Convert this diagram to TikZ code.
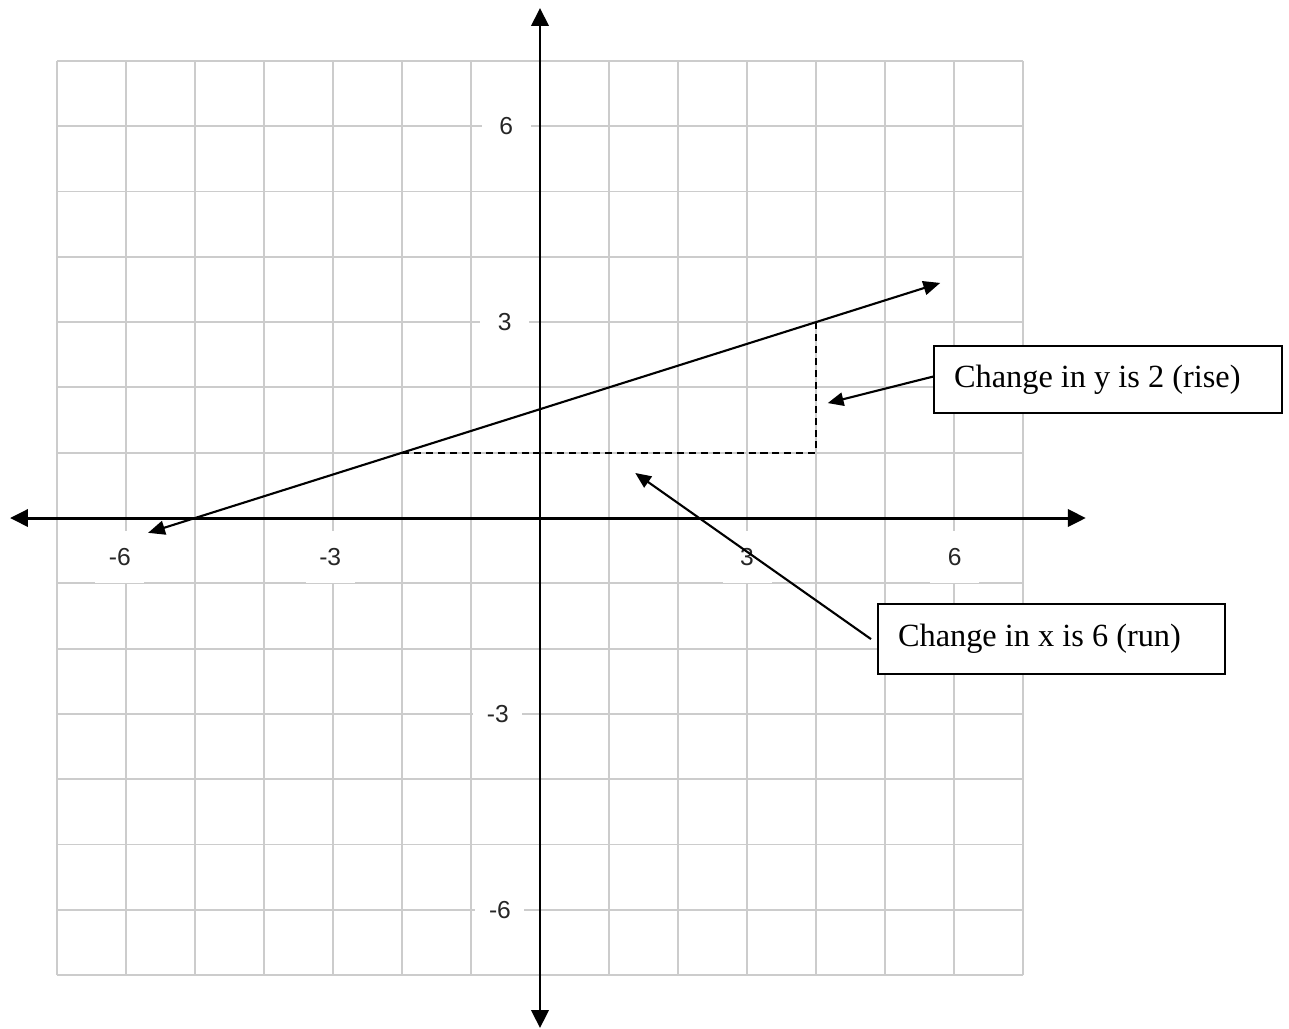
\documentclass[tikz,border=0pt]{standalone}
\usepackage{fontspec}
\setmainfont{Liberation Serif}
\newfontfamily\ticksans{Liberation Sans}
\usepackage{tikz}
\usetikzlibrary{arrows.meta,positioning}
\definecolor{gridcol}{gray}{0.80}
\definecolor{tickcol}{gray}{0.15}
\tikzset{
  gridline/.style={draw=gridcol,line width=0.55pt,xstep=0.69cm,ystep=0.653cm},
  axisline/.style={line width=0.85pt,{Triangle[length=5.1pt,width=4.9pt]}-{Triangle[length=5.1pt,width=4.9pt]}},
  graphline/.style={line width=0.6pt,{Triangle[length=4.8pt,width=4pt]}-{Triangle[length=4.8pt,width=4pt]}},
  dashline/.style={line width=0.55pt,dash pattern=on 2pt off 1.4pt},
  callout/.style={line width=0.6pt,-{Triangle[length=4.5pt,width=3.8pt]}},
  ticklab/.style={fill=white,inner sep=0pt,minimum width=0.49cm,minimum height=0.52cm,text=tickcol,font=\ticksans\fontsize{7}{8}\selectfont},
  notebox/.style={draw,line width=0.6pt,fill=white,anchor=north west,inner xsep=0.2cm,inner ysep=0pt,align=flush left,font=\fontsize{9.2}{10}\selectfont},
}
\begin{document}
\begin{tikzpicture}[x=0.69cm,y=0.653cm]
  \useasboundingbox (-7.826,-7.825) rectangle (10.855,7.933);
  % grid
  \draw[gridline] (-7,-7) grid (7,7);
  % tick labels
  \foreach \v/\px in {6/-0.49,3/-0.51,-3/-0.61,-6/-0.58}
    \node[ticklab] (yt\v) at (\px,\v) {\v};
  \foreach \v/\px in {-6/-6.09,-3/-3.04,3/3.0,6/6.01}
    \node[ticklab] (xt\v) at (\px,-0.6) {\v};
  % axes
  \coordinate (xneg) at (-7.68,0);
  \coordinate (xpos) at (7.91,0);
  \coordinate (yneg) at (0,-7.81);
  \coordinate (ypos) at (0,7.81);
  \draw[axisline] (xneg) -- (xpos);
  \draw[axisline] (yneg) -- (ypos);
  % the line and its rise / run
  \coordinate (lnA) at (-5.68,-0.227);
  \coordinate (lnB) at (5.8,3.6);
  \draw[graphline] (lnA) -- (lnB);
  \coordinate (runA) at (-2,1);
  \coordinate (corner) at (4,1);
  \coordinate (riseB) at (4,3);
  \draw[dashline] (runA) -- (corner) -- (riseB);
  % notes
  \node[notebox,text width=3.08cm,minimum height=0.67cm] (risebox) at (5.696,2.649) {Change in y is 2 (rise)};
  \node[notebox,text width=3.07cm,minimum height=0.70cm] (runbox) at (4.884,-1.302) {Change in x is 6 (run)};
  \coordinate (risept) at (4.17,1.76);
  \coordinate (runpt) at (1.38,0.69);
  \draw[callout] ([yshift=0.03cm]risebox.west) -- (risept);
  \draw[callout] ([xshift=-0.06cm]runbox.west) -- (runpt);
\end{tikzpicture}
\end{document}
